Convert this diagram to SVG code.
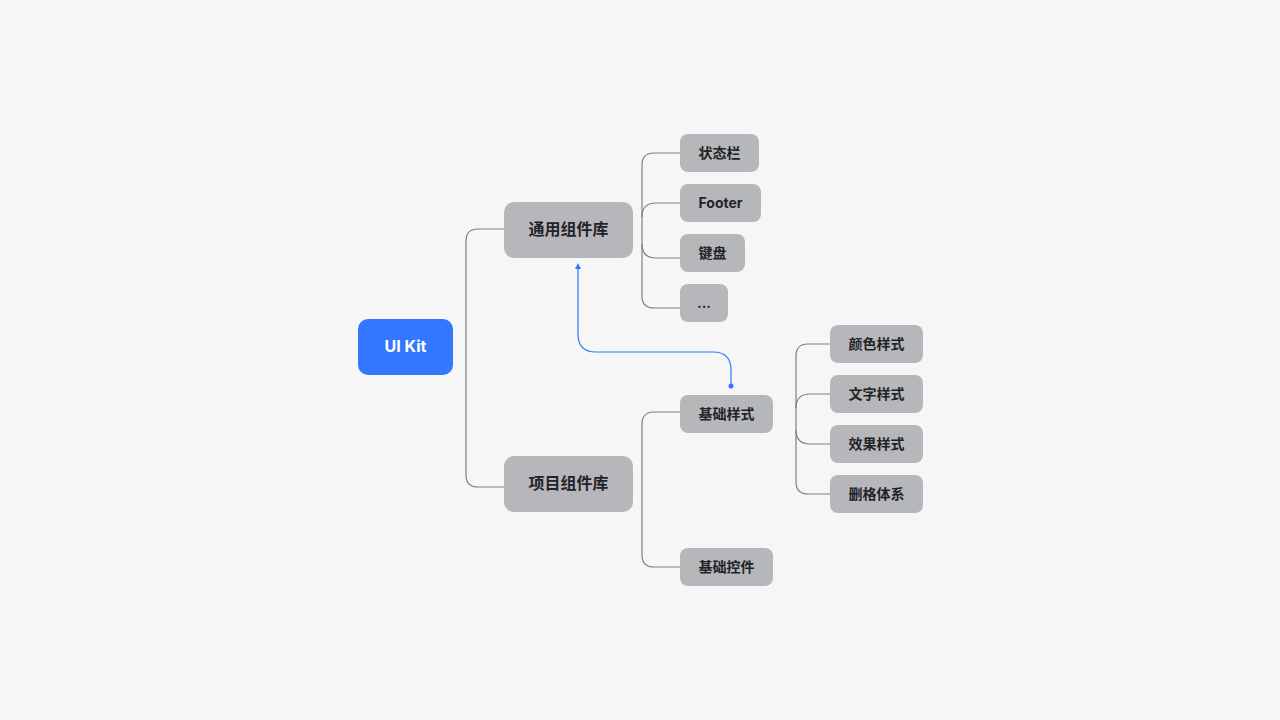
<svg xmlns="http://www.w3.org/2000/svg" width="1280" height="720" viewBox="0 0 1280 720">
<defs>
<style>
.bg{fill:#f6f6f6}
.node{fill:#b6b7ba}
.root{fill:#3377ff}
.t{font-family:"Inter","Noto Sans CJK SC",sans-serif;font-weight:700;text-anchor:middle;dominant-baseline:central;fill:#222326}
.t16{font-size:16px}
.t14{font-size:14px}
.tw{fill:#ffffff}
.ln{fill:none;stroke:#7f8084;stroke-width:1.2}
.bl{fill:none;stroke:#3377ff;stroke-width:1.2}
</style>
<marker id="arr" viewBox="0 0 10 10" refX="5" refY="5" markerWidth="6" markerHeight="6" orient="auto-start-reverse" markerUnits="userSpaceOnUse">
<path d="M0,0 L10,5 L0,10 z" fill="#3377ff"/>
</marker>
</defs>
<rect class="bg" x="0" y="0" width="1280" height="720"/>
<g id="connectors">
<path class="ln" d="M504,229 H478 Q466,229 466,241 V475 Q466,487 478,487 H504"/>
<path class="ln" d="M680,153 H654 Q642,153 642,165 V296 Q642,308 654,308 H680"/>
<path class="ln" d="M680,203 H656 Q642,203 642,217"/>
<path class="ln" d="M642,244 Q642,258 656,258 H680"/>
<path class="ln" d="M680,412 H654 Q642,412 642,424 V555 Q642,567 654,567 H680"/>
<path class="ln" d="M830,344 H808 Q796,344 796,356 V482 Q796,494 808,494 H830"/>
<path class="ln" d="M830,394 H810 Q796,394 796,408"/>
<path class="ln" d="M796,430 Q796,444 810,444 H830"/>
<path class="bl" d="M731,386 V370 Q731,352 713,352 H596 Q578,352 578,334 V266" marker-end="url(#arr)"/>
<circle cx="731" cy="386" r="2.5" fill="#3377ff"/>
</g>
<g id="n-uikit"><rect class="root" x="358" y="319" width="95" height="56" rx="10"/><text class="t t16 tw" x="405.5" y="346">UI Kit</text></g>
<g id="n-common"><rect class="node" x="504" y="202" width="129" height="56" rx="10"/><text class="t t16" x="568.5" y="229">通用组件库</text></g>
<g id="n-project"><rect class="node" x="504" y="456" width="129" height="56" rx="10"/><text class="t t16" x="568.5" y="483">项目组件库</text></g>
<g id="n-status"><rect class="node" x="680" y="134" width="79" height="38" rx="8"/><text class="t t14" x="719.5" y="152.5">状态栏</text></g>
<g id="n-footer"><rect class="node" x="680" y="184" width="81" height="38" rx="8"/><text class="t t14" x="720.5" y="202.5">Footer</text></g>
<g id="n-keyboard"><rect class="node" x="680" y="234" width="65" height="38" rx="8"/><text class="t t14" x="712.5" y="252.5">键盘</text></g>
<g id="n-more"><rect class="node" x="680" y="284" width="48" height="38" rx="8"/><text class="t t14" x="704" y="302.5">...</text></g>
<g id="n-basestyle"><rect class="node" x="680" y="395" width="93" height="38" rx="8"/><text class="t t14" x="726.5" y="413.5">基础样式</text></g>
<g id="n-basectrl"><rect class="node" x="680" y="548" width="93" height="38" rx="8"/><text class="t t14" x="726.5" y="566.5">基础控件</text></g>
<g id="n-color"><rect class="node" x="830" y="325" width="93" height="38" rx="8"/><text class="t t14" x="876.5" y="343.5">颜色样式</text></g>
<g id="n-text"><rect class="node" x="830" y="375" width="93" height="38" rx="8"/><text class="t t14" x="876.5" y="393.5">文字样式</text></g>
<g id="n-effect"><rect class="node" x="830" y="425" width="93" height="38" rx="8"/><text class="t t14" x="876.5" y="443.5">效果样式</text></g>
<g id="n-grid"><rect class="node" x="830" y="475" width="93" height="38" rx="8"/><text class="t t14" x="876.5" y="493.5">删格体系</text></g>
</svg>
